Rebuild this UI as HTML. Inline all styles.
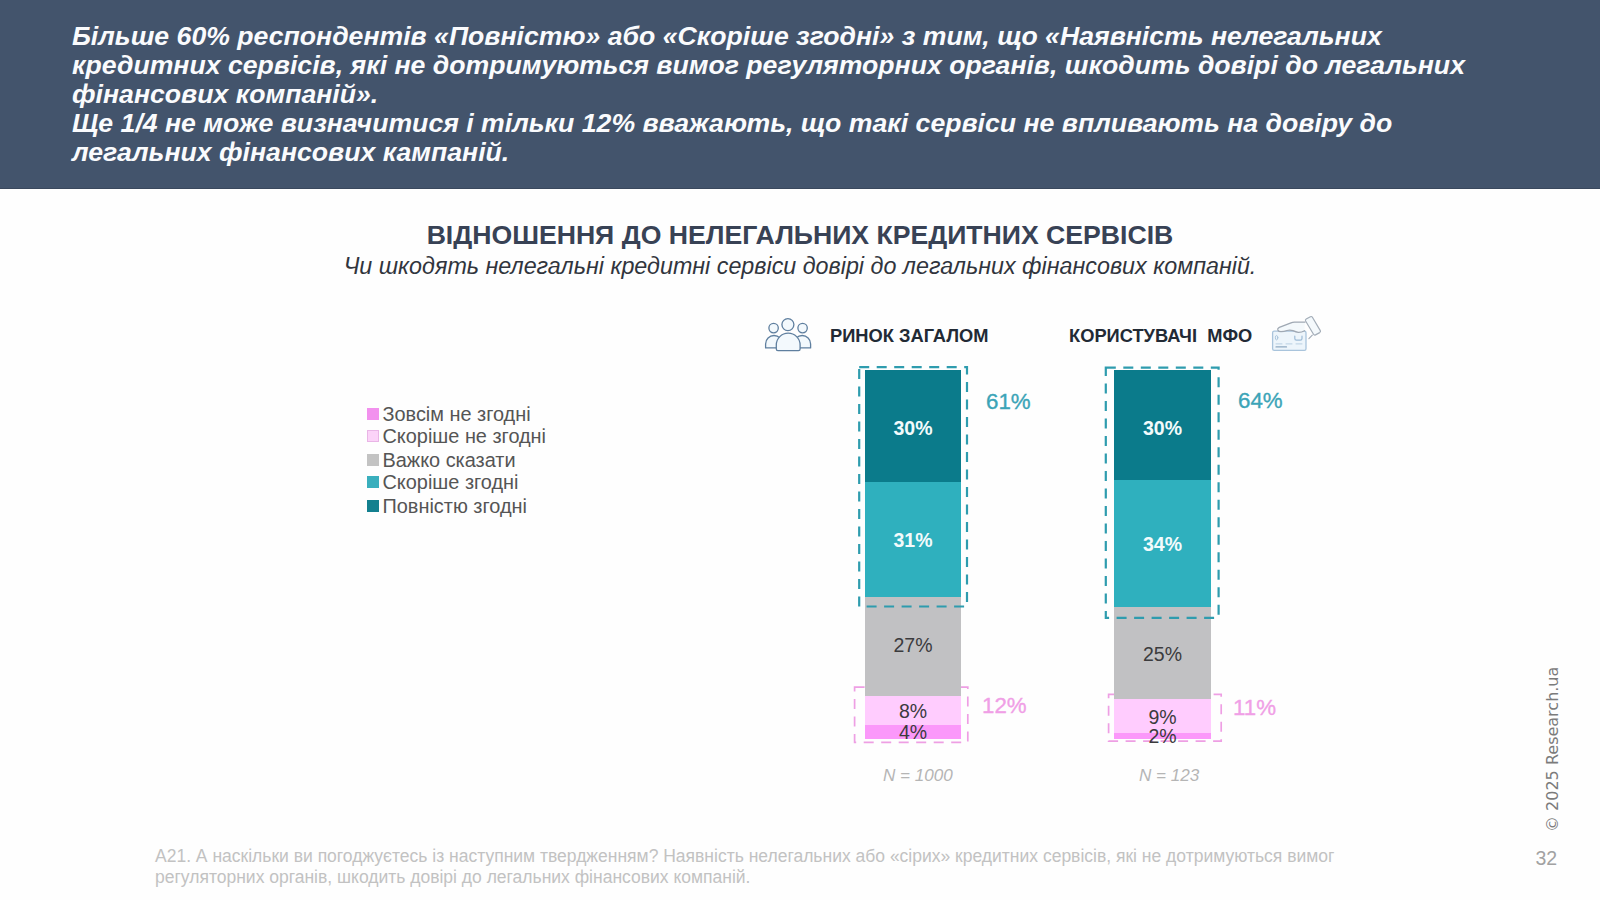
<!DOCTYPE html>
<html lang="uk">
<head>
<meta charset="utf-8">
<title>Відношення до нелегальних кредитних сервісів</title>
<style>
*{margin:0;padding:0;box-sizing:border-box}
html,body{width:1600px;height:900px;overflow:hidden;background:#fefefe;font-family:"Liberation Sans",sans-serif}
.abs{position:absolute;white-space:nowrap}
#hdr{position:absolute;left:0;top:0;width:1600px;height:189px;background:#43546c;border-bottom:1px solid #3a485d}
#hdr p{position:absolute;left:72px;white-space:nowrap;color:#fafbfd;font-weight:bold;font-style:italic;font-size:26.65px;line-height:29px}
#title{left:0;width:1600px;text-align:center;top:220.3px;font-size:26.64px;font-weight:bold;color:#384255;line-height:30px}
#sub{left:0;width:1600px;text-align:center;top:252.7px;font-size:23.3px;font-style:italic;color:#31353d;line-height:26px}
.col{font-weight:bold;font-size:18.3px;color:#222a35;line-height:20px}
.seg{position:absolute}
.lab.w{color:#f3fbfc;font-weight:bold}.lab.d{color:#3b3b3d}
.lab{position:absolute;font-size:19.5px;line-height:20px;text-align:center;white-space:nowrap}
.big{position:absolute;font-size:22.3px;-webkit-text-stroke:0.35px currentColor;line-height:24px;white-space:nowrap}
.n{position:absolute;font-size:17.1px;font-style:italic;color:#b5b5b5;white-space:nowrap;line-height:18px}
.leg{position:absolute;left:367px;font-size:19.9px;color:#555;line-height:20px;white-space:nowrap}
.leg i{position:absolute;left:0;top:4px;width:12px;height:12px}
.leg span{position:absolute;left:15.5px;top:0}
.dash{position:absolute;border:2px dashed #2f9fb0}
#foot{left:155px;top:846px;font-size:17.5px;line-height:20.5px;color:#c2c2c2;white-space:nowrap}
</style>
</head>
<body>
<div id="hdr">
<p style="top:22.3px">Більше 60% респондентів «Повністю» або «Скоріше згодні» з тим, що «Наявність нелегальних</p>
<p style="top:51.3px">кредитних сервісів, які не дотримуються вимог регуляторних органів, шкодить довірі до легальних</p>
<p style="top:80.3px">фінансових компаній».</p>
<p style="top:109.3px">Ще 1/4 не може визначитися і тільки 12% вважають, що такі сервіси не впливають на довіру до</p>
<p style="top:138.3px">легальних фінансових кампаній.</p>
</div>
<div id="title" class="abs">ВІДНОШЕННЯ ДО НЕЛЕГАЛЬНИХ КРЕДИТНИХ СЕРВІСІВ</div>
<div id="sub" class="abs">Чи шкодять нелегальні кредитні сервіси довірі до легальних фінансових компаній.</div>

<div class="abs col" style="left:830px;top:326px">РИНОК ЗАГАЛОМ</div>
<div class="abs col" style="left:1069px;top:326px">КОРИСТУВАЧІ&nbsp; МФО</div>


<!-- legend -->
<div class="leg" style="top:404px"><i style="background:#f291ee"></i><span>Зовсім не згодні</span></div>
<div class="leg" style="top:426px"><i style="background:#fbd3f8;border:1px solid #e9b5e6"></i><span>Скоріше не згодні</span></div>
<div class="leg" style="top:450px"><i style="background:#c3c3c3"></i><span>Важко сказати</span></div>
<div class="leg" style="top:472px"><i style="background:#3aafbd"></i><span>Скоріше згодні</span></div>
<div class="leg" style="top:496px"><i style="background:#13808f"></i><span>Повністю згодні</span></div>

<!-- pink dashed boxes (behind bars) -->
<svg class="abs" style="left:840px;top:670px" width="400" height="90" viewBox="840 670 400 90" fill="none" stroke="#ee9fe4" stroke-width="1.7" stroke-dasharray="10 7.5">
<rect x="854.6" y="687.2" width="113.2" height="55.2"/>
<rect x="1108.6" y="694.4" width="112.6" height="46.8"/>
</svg>

<!-- bar 1 -->
<div class="seg" style="left:865px;top:370px;width:96px;height:112px;background:#0b7b8b"></div>
<div class="seg" style="left:865px;top:482px;width:96px;height:115px;background:#2fb0be"></div>
<div class="seg" style="left:865px;top:597px;width:96px;height:99px;background:#c1c1c3"></div>
<div class="seg" style="left:865px;top:696px;width:96px;height:29px;background:#ffccfe"></div>
<div class="seg" style="left:865px;top:725px;width:96px;height:14px;background:#fb98fa"></div>
<!-- bar 2 -->
<div class="seg" style="left:1114px;top:370px;width:97px;height:110px;background:#0b7b8b"></div>
<div class="seg" style="left:1114px;top:480px;width:97px;height:127px;background:#2fb0be"></div>
<div class="seg" style="left:1114px;top:607px;width:97px;height:92px;background:#c1c1c3"></div>
<div class="seg" style="left:1114px;top:699px;width:97px;height:34px;background:#ffccfe"></div>
<div class="seg" style="left:1114px;top:733px;width:97px;height:6px;background:#fb98fa"></div>

<!-- teal dashed boxes (in front) -->
<svg class="abs" style="left:840px;top:350px" width="400" height="290" viewBox="840 350 400 290" fill="none" stroke="#2e9cae" stroke-width="2.2" stroke-dasharray="10 7.5">
<rect x="859.2" y="367.2" width="107.8" height="239.3"/>
<rect x="1105.8" y="367.6" width="112.8" height="250.2"/>
</svg>

<!-- labels -->
<div class="lab w" style="left:865px;width:96px;top:418px">30%</div>
<div class="lab w" style="left:865px;width:96px;top:530px">31%</div>
<div class="lab d" style="left:865px;width:96px;top:635px">27%</div>
<div class="lab d" style="left:865px;width:96px;top:701px">8%</div>
<div class="lab d" style="left:865px;width:96px;top:722px">4%</div>
<div class="lab w" style="left:1114px;width:97px;top:418px">30%</div>
<div class="lab w" style="left:1114px;width:97px;top:534px">34%</div>
<div class="lab d" style="left:1114px;width:97px;top:644px">25%</div>
<div class="lab d" style="left:1114px;width:97px;top:707px">9%</div>
<div class="lab d" style="left:1114px;width:97px;top:726px">2%</div>

<div class="big" style="left:986px;top:390px;color:#3ba4b7">61%</div>
<div class="big" style="left:1238px;top:389px;color:#3ba4b7">64%</div>
<div class="big" style="left:982px;top:694px;color:#f09fe6">12%</div>
<div class="big" style="left:1233px;top:696px;color:#f09fe6">11%</div>

<div class="n" style="left:883px;top:766.5px">N = 1000</div>
<div class="n" style="left:1139px;top:766.5px">N = 123</div>

<!-- icons -->
<svg class="abs" style="left:755px;top:305px" width="70" height="55" viewBox="755 305 70 55" fill="#f3f9fd" stroke="#5f7f9f" stroke-width="1.3" stroke-linejoin="round" stroke-linecap="round">
<circle cx="773.6" cy="328.1" r="4.7"/>
<circle cx="802.6" cy="328.1" r="4.7"/>
<path d="M765.6 347.9 v-4 a8.4 8.4 0 0 1 16.8 0 v4 z"/>
<path d="M810.6 347.9 v-4 a8.4 8.4 0 0 0 -16.8 0 v4 z"/>
<circle cx="787.9" cy="324.6" r="6"/>
<path d="M776.3 349 v-4 a11.9 11.9 0 0 1 23.8 0 v4 q0 1.6 -1.6 1.6 h-20.6 q-1.6 0 -1.6 -1.6 z"/>
</svg>
<svg class="abs" style="left:1265px;top:310px" width="65" height="50" viewBox="1265 310 65 50" fill="none" stroke-linejoin="round" stroke-linecap="round">
<rect x="1272.6" y="331.2" width="33.4" height="19.2" rx="1.6" fill="#edf5fb" stroke="#a9c4dc" stroke-width="1.3"/>
<ellipse cx="1276.6" cy="337.7" rx="1.2" ry="2.2" stroke="#a9c4dc" stroke-width="1"/>
<path d="M1294.8 336.2 v2.4 q0 1.6 1.6 1.6 h4 q1.6 0 1.6 -1.6 v-2.4" stroke="#9dbbd6" stroke-width="1.2"/>
<path d="M1276 343.9 h6 M1286 343.9 h6 M1296 343.9 h6" stroke="#b9cfe2" stroke-width="1"/>
<path d="M1276 346.9 h10.5" stroke="#8fa9c2" stroke-width="1.2"/>
<path d="M1304.9 322.2 H1294.5 Q1292.5 322.2 1291 322.8 L1279.3 327.3 Q1277.3 328.3 1277.8 329.9 Q1278.6 331.7 1281 331.7 Q1284 331.7 1287 330.5 Q1290 329.5 1293 330.7 Q1296 332.1 1298.3 332.4 Q1301.5 332.5 1304.5 330.8" fill="#f4f9fc" stroke="#9fa8b3" stroke-width="1.3"/>
<path d="M1305.600 321 q-.6 -1.300 .6 -2 l4.200 -2.300 q1.300 -.6 2 .6 l7.900 13.300 q.6 1.300 -.6 2 l-4.200 2.300 q-1.300 .6 -2 -.6 z" fill="#f4f9fc" stroke="#a3adb8" stroke-width="1.2"/>
<path d="M1312.300 335.200 l-3.400 3.400" stroke="#a3adb8" stroke-width="1.2"/>
</svg>

<div id="foot" class="abs">А21. А наскільки ви погоджуєтесь із наступним твердженням? Наявність нелегальних або «сірих» кредитних сервісів, які не дотримуються вимог<br>регуляторних органів, шкодить довірі до легальних фінансових компаній.</div>
<div class="abs" style="left:1535.5px;top:847px;font-size:19.5px;color:#a2a2a2;line-height:22px">32</div>
<div class="abs" id="copy" style="left:1543px;top:832px;font-family:'DejaVu Sans',sans-serif;font-size:16px;color:#7b7b7b;transform-origin:0 0;transform:rotate(-90deg);line-height:20px">© 2025 Research.ua</div>
</body>
</html>
